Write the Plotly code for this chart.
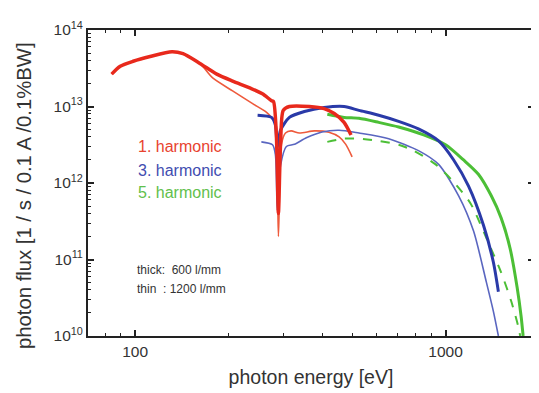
import plotly.graph_objects as go

# 1st harmonic, 600 l/mm (thick)
e_h1_600 = [84, 89.5, 98.5, 111.7, 131.4, 142.6, 161.6, 183.2, 206, 234, 257, 275, 279, 285, 289.4, 294, 300, 314, 364, 406, 438, 471, 496]
f_h1_600 = [2.65e13, 3.36e13, 3.9e13, 4.5e13, 5.2e13, 4.9e13, 3.66e13, 2.65e13, 2.15e13, 1.75e13, 1.47e13, 1.19e13, 1.16e13, 4.3e12, 4e11, 3.2e12, 8.9e12, 1.0e13, 1.0e13, 9.4e12, 8.1e12, 6.2e12, 4.25e12]
# 1st harmonic, 1200 l/mm (thin)
e_h1_1200 = [84, 89.5, 98.5, 111.7, 131.4, 142.6, 161.6, 177.7, 206, 239, 265, 275, 283, 289.4, 296, 305, 318, 338, 378, 421, 454, 477, 500]
f_h1_1200 = [2.65e13, 3.36e13, 3.9e13, 4.5e13, 5.2e13, 4.9e13, 3.66e13, 2.36e13, 1.6e13, 1.09e13, 8.4e12, 7.2e12, 5.7e12, 2.0e11, 3.2e12, 4.5e12, 4.8e12, 4.5e12, 4.8e12, 4.6e12, 4.0e12, 3.2e12, 2.2e12]
# 3rd harmonic, 600 l/mm (thick)
e_h3_600 = [248, 275, 283, 287, 294, 314, 351, 406, 471, 526, 609, 706, 818, 950, 1062, 1186, 1325, 1426, 1480]
f_h3_600 = [7.7e12, 7.2e12, 5.7e12, 2.9e12, 4.9e12, 7.2e12, 8.6e12, 9.7e12, 1.0e13, 8.9e12, 7.7e12, 6.4e12, 5.1e12, 3.55e12, 2.0e12, 9.1e11, 2.8e11, 9.2e10, 3.8e10]
# 3rd harmonic, 1200 l/mm (thin)
e_h3_1200 = [255, 277, 283, 287, 294, 307, 326, 356, 400, 454, 526, 656, 818, 950, 1102, 1231, 1353, 1426, 1480]
f_h3_1200 = [3.45e12, 3.16e12, 2.35e12, 4.4e11, 1.7e12, 3.0e12, 3.2e12, 3.9e12, 4.65e12, 4.9e12, 4.5e12, 3.8e12, 2.65e12, 1.75e12, 6.8e11, 2.35e11, 5.1e10, 2.1e10, 1e10]
# 5th harmonic, 600 l/mm (thick)
e_h5_600 = [416, 471, 526, 609, 706, 850, 1000, 1143, 1276, 1404, 1510, 1614, 1701, 1752, 1778]
f_h5_600 = [7.9e12, 7.2e12, 7.0e12, 6.2e12, 5.4e12, 4.25e12, 3.16e12, 2.0e12, 1.3e12, 6.8e11, 3.5e11, 1.4e11, 4.3e10, 1.8e10, 1e10]
# 5th harmonic, 1200 l/mm (dashed)
e_h5_1200 = [416, 471, 526, 609, 706, 789, 929, 1062, 1204, 1374, 1510, 1630, 1714, 1740]
f_h5_1200 = [3.45e12, 3.8e12, 3.8e12, 3.55e12, 3.16e12, 2.65e12, 1.75e12, 1.03e12, 5.4e11, 1.66e11, 6.8e10, 2.8e10, 1.35e10, 1e10]

x_tickvals = [100, 1000]
x_ticktext = ["100", "1000"]
x_minor = [80, 90, 200, 300, 400, 500, 600, 700, 800, 900]
y_tickvals = [1e10, 1e11, 1e12, 1e13, 1e14]
y_ticktext = ["10<sup>10</sup>", "10<sup>11</sup>", "10<sup>12</sup>", "10<sup>13</sup>", "10<sup>14</sup>"]
y_minor = [m * 10 ** d for d in range(10, 14) for m in range(2, 10)]

RED = "#e8291c"
RED_THIN = "#ee5a3c"
BLUE = "#2a3aa8"
BLUE_THIN = "#5a66c0"
GREEN = "#4cbf36"

SM = 0.7
fig = go.Figure()
fig.add_trace(go.Scatter(x=e_h1_1200, y=f_h1_1200, mode="lines", line=dict(color=RED_THIN, width=1.6, shape="spline", smoothing=SM)))
fig.add_trace(go.Scatter(x=e_h3_1200, y=f_h3_1200, mode="lines", line=dict(color=BLUE_THIN, width=1.6, shape="spline", smoothing=SM)))
fig.add_trace(go.Scatter(x=e_h5_1200, y=f_h5_1200, mode="lines", line=dict(color=GREEN, width=2, dash="dash", shape="spline", smoothing=SM)))
fig.add_trace(go.Scatter(x=e_h5_600, y=f_h5_600, mode="lines", line=dict(color=GREEN, width=3, shape="spline", smoothing=SM)))
fig.add_trace(go.Scatter(x=e_h3_600, y=f_h3_600, mode="lines", line=dict(color=BLUE, width=3, shape="spline", smoothing=SM)))
fig.add_trace(go.Scatter(x=e_h1_600, y=f_h1_600, mode="lines", line=dict(color=RED, width=3.5, shape="spline", smoothing=SM)))

font = "Liberation Sans, Arial, sans-serif"
fig.update_layout(
    width=539, height=393,
    margin=dict(l=80, r=11, t=16, b=65),
    paper_bgcolor="white", plot_bgcolor="white",
    showlegend=False,
    font=dict(family=font, color="#333333"),
    xaxis=dict(
        type="log", range=[1.848, 3.285],
        tickmode="array", tickvals=x_tickvals, ticktext=x_ticktext,
        ticks="inside", ticklen=6, tickwidth=1.5, tickcolor="#222",
        minor=dict(tickmode="array", tickvals=x_minor, ticks="inside", ticklen=3, tickwidth=1.2, tickcolor="#222", showgrid=False),
        showline=True, linecolor="#222", linewidth=2, mirror="allticks",
        showgrid=False, zeroline=False,
        tickfont=dict(size=15.5, family=font, color="#333"),
        title=dict(text="photon energy [eV]", font=dict(size=19.5, family=font, color="#333"), standoff=12),
    ),
    yaxis=dict(
        type="log", range=[10, 14],
        tickmode="array", tickvals=y_tickvals, ticktext=y_ticktext,
        ticks="inside", ticklen=6, tickwidth=1.5, tickcolor="#222",
        minor=dict(tickmode="array", tickvals=y_minor, ticks="inside", ticklen=3, tickwidth=1.2, tickcolor="#222", showgrid=False),
        showline=True, linecolor="#222", linewidth=2, mirror="allticks",
        showgrid=False, zeroline=False,
        tickfont=dict(size=15.5, family=font, color="#333"),
    ),
)

# y-axis title as rotated annotation
fig.add_annotation(text="photon flux [1 / s / 0.1 A /0.1%BW]", xref="paper", yref="paper",
                   x=(23 - 88) / 448, y=(336 - 193) / 312, xanchor="center", yanchor="middle",
                   textangle=-90, showarrow=False,
                   font=dict(size=20.3, family=font, color="#333"))

labels = [("1. harmonic", "#e8432f", 143), ("3. harmonic", "#3f4db0", 167), ("5. harmonic", "#62c04c", 190)]
for txt, col, ypx in labels:
    fig.add_annotation(text=txt, xref="paper", yref="paper", x=(136 - 88) / 448, y=(336 - ypx) / 312,
                       xanchor="left", yanchor="middle", showarrow=False,
                       font=dict(size=16, family=font, color=col))
for txt, ypx in [("thick:  600 l/mm", 269), ("thin  : 1200 l/mm", 288)]:
    fig.add_annotation(text=txt, xref="paper", yref="paper", x=(135 - 88) / 448, y=(336 - ypx) / 312,
                       xanchor="left", yanchor="middle", showarrow=False,
                       font=dict(size=12, family=font, color="#333"))

fig.write_html("out.html")
